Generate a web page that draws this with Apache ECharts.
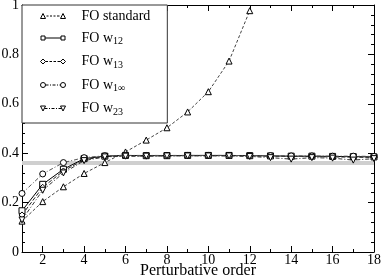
<!DOCTYPE html>
<html><head><meta charset="utf-8">
<script src="https://cdn.jsdelivr.net/npm/echarts@6/dist/echarts.min.js"></script>
<style>html,body{margin:0;padding:0;background:#fff}#c{width:382px;height:280px}</style>
</head><body><div id="c"></div>
<script>
var orders = [1,2,3,4,5,6,7,8,9,10,11,12,13,14,15,16,17,18];
var foStandard = [0.125,0.204,0.264,0.318,0.362,0.405,0.453,0.503,0.567,0.649,0.773,0.977];
var foW12 = [0.167,0.274,0.335,0.378,0.388,0.391,0.390,0.390,0.391,0.391,0.391,0.390,0.389,0.388,0.388,0.387,0.386,0.385];
var foW13 = [0.150,0.262,0.328,0.374,0.386,0.389,0.389,0.390,0.390,0.390,0.390,0.389,0.388,0.387,0.386,0.385,0.384,0.383];
var foW1inf = [0.237,0.316,0.362,0.382,0.390,0.391,0.391,0.391,0.391,0.391,0.391,0.390,0.390,0.389,0.389,0.388,0.388,0.387];
var foW23 = [0.130,0.250,0.320,0.370,0.385,0.388,0.388,0.389,0.389,0.389,0.389,0.387,0.382,0.376,0.382,0.380,0.372,0.378];
var refValue = 0.36;
var xMajorTicks = [2,4,6,8,10,12,14,16,18];
var xMinorTicks = [1,3,5,7,9,11,13,15,17];

function pairs(vals){ return vals.map(function(v,i){ return [orders[i], v]; }); }
var FONT = '"Liberation Serif"';

var icons = {
  std: 'path://M1,6 L3.5,1 L6,6 Z M7,3.5 L9,3.5 M10.5,3.5 L12.5,3.5 M14,3.5 L16,3.5 M17.5,3.5 L20,3.5 M21,6 L23.5,1 L26,6 Z M0,0 M27,7',
  w12: 'path://M1.5,1.5 L5.5,1.5 L5.5,5.5 L1.5,5.5 Z M5.5,3.5 L21.5,3.5 M21.5,1.5 L25.5,1.5 L25.5,5.5 L21.5,5.5 Z M0,0 M27,7',
  w13: 'path://M3.5,1 L6,3.5 L3.5,6 L1,3.5 Z M6,3.5 L8.5,3.5 M10,3.5 L12.5,3.5 M14,3.5 L16.5,3.5 M18,3.5 L21,3.5 M23.5,1 L26,3.5 L23.5,6 L21,3.5 Z M0,0 M27,7',
  w1inf: 'path://M1,3.5 A2.5,2.5 0 1,0 6,3.5 A2.5,2.5 0 1,0 1,3.5 Z M6,3.5 L9,3.5 M10.5,3.5 L11.5,3.5 M13,3.5 L16,3.5 M17.5,3.5 L18.5,3.5 M20,3.5 L21,3.5 M21,3.5 A2.5,2.5 0 1,0 26,3.5 A2.5,2.5 0 1,0 21,3.5 Z M0,0 M27,7',
  w23: 'path://M1,1 L6,1 L3.5,6 Z M5,3.5 L8,3.5 M9.5,3.5 L10.5,3.5 M12,3.5 L15,3.5 M16.5,3.5 L17.5,3.5 M19,3.5 L22,3.5 M21,1 L26,1 L23.5,6 Z M0,0 M27,7'
};
var labelMap = {
  'FO standard': '{a|FO standard}',
  'FO w12': '{a|FO w}{s|12}',
  'FO w13': '{a|FO w}{s|13}',
  'FO w1inf': '{a|FO w}{s|1\u221e}',
  'FO w23': '{a|FO w}{s|23}'
};
var markerStyle = {color:'#fff', borderColor:'#000', borderWidth:1};

function mkSeries(name, vals, symbol, rotate, dash, lineColor){
  return {
    name: name, type:'line', data: pairs(vals), symbol: symbol, symbolSize: 6,
    symbolRotate: rotate, showAllSymbol: true,
    itemStyle: markerStyle,
    lineStyle: {color: lineColor, width: 1, type: dash},
    emphasis: {disabled:true}, z: 3
  };
}

var chart = echarts.init(document.getElementById('c'), null, {renderer:'canvas'});
var axisBase = {
  type:'value', min:1, max:18, gridIndex:0,
  splitLine:{show:false}
};
chart.setOption({
  animation:false,
  backgroundColor:'#fff',
  textStyle:{fontFamily:FONT},
  grid:{left:22, right:8, top:5, bottom:28, show:false, outerBoundsMode:'none', containLabel:false},
  legend:{
    orient:'vertical', left:22, top:5,
    backgroundColor:'#fff', borderColor:'#333', borderWidth:1,
    padding:[4,17,6,17], itemGap:8, itemWidth:27, itemHeight:7,
    selectedMode:false,
    itemStyle:{color:'#fff', borderColor:'#000', borderWidth:1},
    data:[
      {name:'FO standard', icon: icons.std},
      {name:'FO w12', icon: icons.w12},
      {name:'FO w13', icon: icons.w13},
      {name:'FO w1inf', icon: icons.w1inf},
      {name:'FO w23', icon: icons.w23}
    ],
    formatter:function(n){ return labelMap[n]; },
    textStyle:{
      fontFamily:FONT, color:'#000', fontSize:14,
      rich:{
        a:{fontFamily:FONT, fontSize:14, color:'#000', lineHeight:17, padding:[0,0,0,10]},
        s:{fontFamily:FONT, fontSize:10, color:'#000', lineHeight:10, verticalAlign:'bottom'}
      }
    },
    z: 10
  },
  xAxis:[
    Object.assign({}, axisBase, {position:'bottom',
      name:'Perturbative order', nameLocation:'middle', nameGap:11, nameMoveOverlap:false,
      nameTextStyle:{fontFamily:FONT, fontSize:16, color:'#000'},
      axisLine:{show:true, lineStyle:{color:'#000', width:1}},
      axisTick:{show:true, inside:true, length:6, customValues:xMajorTicks, lineStyle:{color:'#000'}},
      axisLabel:{show:true, customValues:xMajorTicks, margin:1, fontFamily:FONT, fontSize:14, color:'#000'}
    }),
    Object.assign({}, axisBase, {position:'bottom',
      axisLine:{show:false},
      axisTick:{show:true, inside:true, length:3, customValues:xMinorTicks, lineStyle:{color:'#000'}},
      axisLabel:{show:false}
    }),
    Object.assign({}, axisBase, {position:'top',
      axisLine:{show:true, lineStyle:{color:'#000', width:1}},
      axisTick:{show:true, inside:true, length:6, customValues:xMajorTicks, lineStyle:{color:'#000'}},
      axisLabel:{show:false}
    }),
    Object.assign({}, axisBase, {position:'top',
      axisLine:{show:false},
      axisTick:{show:true, inside:true, length:3, customValues:xMinorTicks, lineStyle:{color:'#000'}},
      axisLabel:{show:false}
    })
  ],
  yAxis:[
    {type:'value', min:0, max:1, interval:0.2, position:'left',
      axisLine:{show:true, lineStyle:{color:'#000', width:1}},
      axisTick:{show:true, inside:true, length:6, lineStyle:{color:'#000'}},
      minorTick:{show:true, splitNumber:5, length:3, lineStyle:{color:'#000'}},
      splitLine:{show:false},
      axisLabel:{margin:3, fontFamily:FONT, fontSize:14, color:'#000'}
    },
    {type:'value', min:0, max:1, interval:0.2, position:'right',
      axisLine:{show:true, lineStyle:{color:'#000', width:1}},
      axisTick:{show:true, inside:true, length:6, lineStyle:{color:'#000'}},
      minorTick:{show:true, splitNumber:5, length:3, lineStyle:{color:'#000'}},
      splitLine:{show:false},
      axisLabel:{show:false}
    }
  ],
  series:[
    {name:'ref', type:'line', data:[[orders[0], refValue],[orders[orders.length-1], refValue]],
      symbol:'none', lineStyle:{color:'#cfcfcf', width:4}, z:1, silent:true},
    mkSeries('FO standard', foStandard, 'triangle', 0, [3,2], '#444'),
    mkSeries('FO w12', foW12, 'rect', 0, 'solid', '#000'),
    mkSeries('FO w13', foW13, 'diamond', 0, [4,2], '#222'),
    mkSeries('FO w1inf', foW1inf, 'circle', 0, [4,2,1,2], '#555'),
    mkSeries('FO w23', foW23, 'triangle', 180, [4,2,1,2], '#333')
  ]
});
</script></body></html>
